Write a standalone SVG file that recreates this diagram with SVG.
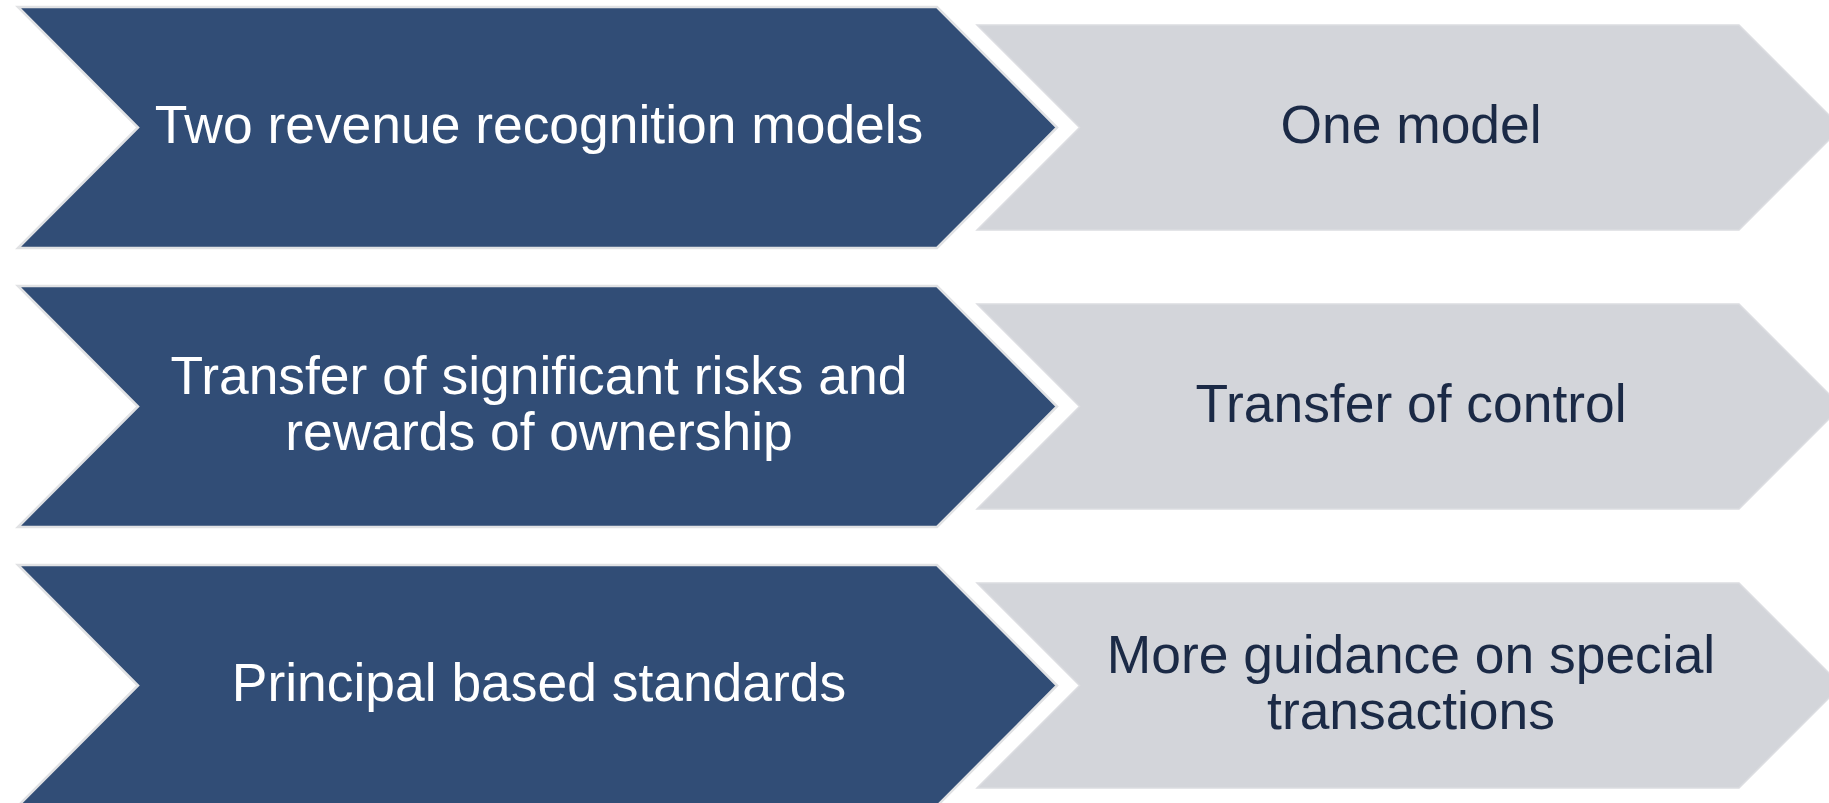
<svg xmlns="http://www.w3.org/2000/svg" width="1829" height="803" viewBox="0 0 1829 803">
  <style>
    .from { fill: #314D76; stroke: #E1E2E4; stroke-width: 2.5; stroke-linejoin: miter; }
    .to { fill: #D3D5DA; stroke: #DCDDE1; stroke-width: 1.5; stroke-linejoin: miter; }
    .t { font-family: "Liberation Sans", Arial, sans-serif; font-size: 53.4px; text-anchor: middle; }
    .light { fill: #FFFFFF; }
    .dark { fill: #1B2A46; }
  </style>
  <rect width="1829" height="803" fill="#FFFFFF"/>

  <!-- Row 1 -->
  <g id="from-1">
    <polygon class="from" points="18,7 937,7 1057,127.5 937,248 18,248 138,127.5"/>
    <text class="t light" x="539" y="143">Two revenue recognition models</text>
  </g>
  <g id="to-1">
    <polygon class="to" points="977,25 1739,25 1841.5,127.5 1739,230 977,230 1079.5,127.5"/>
    <text class="t dark" x="1411" y="143">One model</text>
  </g>

  <!-- Row 2 -->
  <g id="from-2">
    <polygon class="from" points="18,286 937,286 1057,406.5 937,527 18,527 138,406.5"/>
    <text class="t light" x="539" y="393.5">Transfer of significant risks and</text>
    <text class="t light" x="539" y="449.5">rewards of ownership</text>
  </g>
  <g id="to-2">
    <polygon class="to" points="977,304 1739,304 1841.5,406.5 1739,509 977,509 1079.5,406.5"/>
    <text class="t dark" x="1411" y="422">Transfer of control</text>
  </g>

  <!-- Row 3 -->
  <g id="from-3">
    <polygon class="from" points="18,565 937,565 1057,685.5 937,806 18,806 138,685.5"/>
    <text class="t light" x="539" y="701">Principal based standards</text>
  </g>
  <g id="to-3">
    <polygon class="to" points="977,583 1739,583 1841.5,685.5 1739,788 977,788 1079.5,685.5"/>
    <text class="t dark" x="1411" y="672.5">More guidance on special</text>
    <text class="t dark" x="1411" y="728.5">transactions</text>
  </g>

  <g id="connectors"></g>
</svg>
